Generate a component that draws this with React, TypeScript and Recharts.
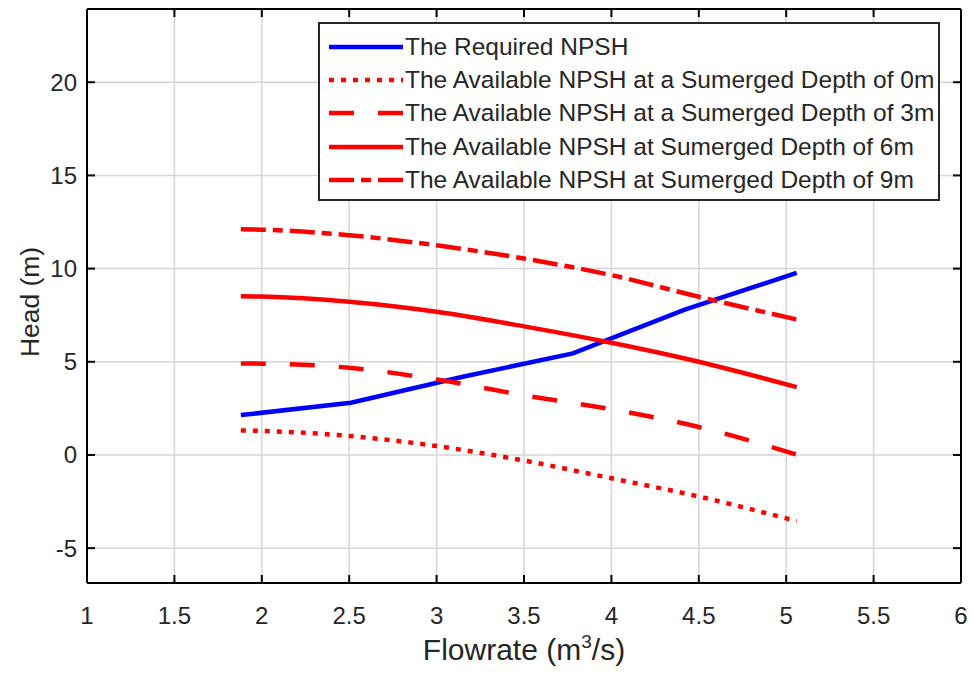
import React from 'react';
import { LineChart, Line, XAxis, YAxis, CartesianGrid, Legend, Label } from 'recharts';

// required NPSH (blue)
const reqFlow = [1.88, 2.51, 3.15, 3.78, 4.42, 5.06];
const reqNpsh = [2.14, 2.8, 4.2, 5.45, 7.8, 9.77];

// available NPSH at the four submerged depths
const availFlow = [1.88, 2, 2.5, 3, 3.5, 4, 4.5, 5.06];
const depth0 = [1.32, 1.29, 1.02, 0.48, -0.3, -1.25, -2.23, -3.55];
const depth3 = [4.91, 4.9, 4.68, 4.05, 3.2, 2.45, 1.5, 0.02];
const depth6 = [8.52, 8.5, 8.22, 7.68, 6.9, 6.02, 5.0, 3.64];
const depth9 = [12.11, 12.09, 11.79, 11.25, 10.54, 9.65, 8.49, 7.27];

const xTicks = [1, 1.5, 2, 2.5, 3, 3.5, 4, 4.5, 5, 5.5, 6];
const yTicks = [-5, 0, 5, 10, 15, 20];

const FONT = '"Liberation Sans", Arial, Helvetica, sans-serif';
const TEXT = '#262626';

const toPoints = (xs: number[], ys: number[]) => xs.map((x, i) => ({ x, y: ys[i] }));

const series = [
  { name: 'The Required NPSH', data: toPoints(reqFlow, reqNpsh), color: '#0000ff', dash: undefined, type: 'linear' },
  { name: 'The Available NPSH at a Sumerged Depth of 0m', data: toPoints(availFlow, depth0), color: '#ff0000', dash: '5 7', type: 'monotone' },
  { name: 'The Available NPSH at a Sumerged Depth of 3m', data: toPoints(availFlow, depth3), color: '#ff0000', dash: '25 24', type: 'monotone' },
  { name: 'The Available NPSH at Sumerged Depth of 6m', data: toPoints(availFlow, depth6), color: '#ff0000', dash: undefined, type: 'monotone' },
  { name: 'The Available NPSH at Sumerged Depth of 9m', data: toPoints(availFlow, depth9), color: '#ff0000', dash: '25 7 10 7', type: 'monotone' },
];

const renderLegend = () => (
  <div
    style={{
      border: '2px solid #262626',
      background: '#fff',
      width: 622,
      boxSizing: 'border-box',
      padding: '6px 0 3px 0',
      fontFamily: FONT,
      fontSize: 24.5,
      color: TEXT,
    }}
  >
    {series.map(s => (
      <div key={s.name} style={{ display: 'flex', alignItems: 'center', height: 33.3, whiteSpace: 'nowrap' }}>
        <svg width={85} height={10} style={{ flex: 'none' }}>
          <line x1={9} x2={83} y1={5} y2={5} stroke={s.color} strokeWidth={4.5} strokeDasharray={s.dash} />
        </svg>
        <span>{s.name}</span>
      </div>
    ))}
  </div>
);

const XTitle = (props: any) => {
  const { viewBox } = props;
  const cx = viewBox.x + viewBox.width / 2;
  return (
    <text x={cx} y={viewBox.y + 77} textAnchor="middle" fontFamily={FONT} fontSize={30} fill={TEXT}>
      Flowrate (m
      <tspan dy={-12} fontSize={19}>3</tspan>
      <tspan dy={12}>/s)</tspan>
    </text>
  );
};

const YTitle = (props: any) => {
  const { viewBox } = props;
  const cy = viewBox.y + viewBox.height / 2 + 6;
  const x = 39;
  return (
    <text x={x} y={cy} transform={`rotate(-90 ${x} ${cy})`} textAnchor="middle" fontFamily={FONT} fontSize={26.4} fill={TEXT}>
      Head (m)
    </text>
  );
};

export default function App() {
  const axisLine = { stroke: '#000', strokeWidth: 2 };
  const tickLine = { stroke: '#000', strokeWidth: 2 };
  const tickStyle = { fill: TEXT, fontSize: 24, fontFamily: FONT };

  return (
    <div style={{ position: 'absolute', left: 0, top: 0, width: 972, height: 679, background: '#fff' }}>
      <LineChart width={972} height={679} margin={{ top: 0, right: 0, bottom: 0, left: 0 }}>
        <CartesianGrid stroke="#d6d6d6" strokeWidth={1.5} />
        <XAxis
          type="number"
          dataKey="x"
          domain={[1, 6]}
          ticks={xTicks}
          allowDataOverflow
          height={96}
          axisLine={axisLine}
          tickLine={tickLine}
          tickSize={-8}
          tickMargin={32}
          tick={tickStyle}
          label={<Label content={XTitle} />}
        />
        <XAxis
          xAxisId="top"
          orientation="top"
          type="number"
          dataKey="x"
          domain={[1, 6]}
          ticks={xTicks}
          allowDataOverflow
          height={9}
          axisLine={axisLine}
          tickLine={tickLine}
          tickSize={-8}
          tickFormatter={() => ''}
        />
        <YAxis
          type="number"
          domain={[-6.87, 23.93]}
          ticks={yTicks}
          allowDataOverflow
          width={87}
          axisLine={axisLine}
          tickLine={tickLine}
          tickSize={-8}
          tickMargin={18}
          tick={tickStyle}
          label={<Label content={YTitle} />}
        />
        <YAxis
          yAxisId="right"
          orientation="right"
          type="number"
          domain={[-6.87, 23.93]}
          ticks={yTicks}
          allowDataOverflow
          width={11}
          axisLine={axisLine}
          tickLine={tickLine}
          tickSize={-8}
          tickFormatter={() => ''}
        />
        {series.map(s => (
          <Line
            key={s.name}
            name={s.name}
            data={s.data}
            dataKey="y"
            type={s.type as any}
            stroke={s.color}
            strokeWidth={4.5}
            strokeDasharray={s.dash}
            strokeLinecap="butt"
            dot={false}
            activeDot={false}
            isAnimationActive={false}
          />
        ))}
        <Legend
          layout="horizontal"
          verticalAlign="middle"
          align="center"
          content={renderLegend}
          wrapperStyle={{ left: 318, top: 22, width: 622 }}
        />
      </LineChart>
    </div>
  );
}
